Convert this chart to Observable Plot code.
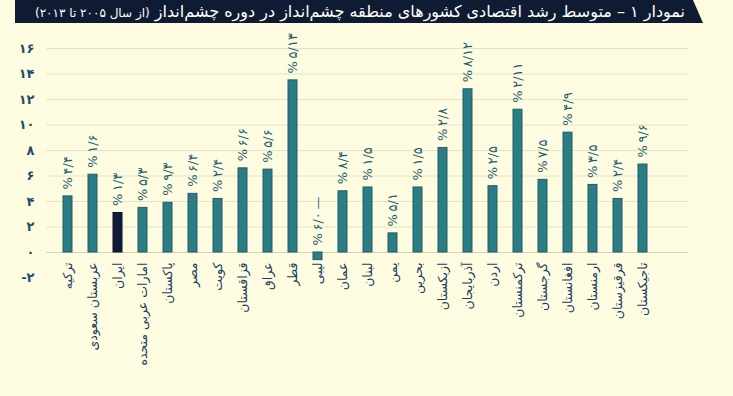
<!DOCTYPE html>
<html>
<head>
<meta charset="utf-8">
<script src="https://cdn.jsdelivr.net/npm/d3@7"></script>
<script src="https://cdn.jsdelivr.net/npm/@observablehq/plot@0.6"></script>
<style>
  html, body { margin: 0; padding: 0; background: #fefce0; }
  body { width: 733px; height: 396px; overflow: hidden; font-family: "DejaVu Sans", sans-serif; }
  #header {
    margin-left: 15px; width: 688px; height: 23px;
    background: #0f1b33; color: #ffffff;
    clip-path: polygon(0 0, 678px 0, 688px 23px, 0 23px);
    direction: rtl; box-sizing: border-box; padding-right: 18px;
    font-size: 16px; line-height: 23px; white-space: nowrap; overflow: hidden;
  }
  #header span { font-size: 12px; }
  #chart svg { display: block; }
</style>
</head>
<body>
<div id="header">نمودار ۱ – متوسط رشد اقتصادی کشورهای منطقه چشم‌انداز در دوره چشم‌انداز <span>(از سال ۲۰۰۵ تا ۲۰۱۳)</span></div>
<div id="chart"></div>
<script>
const categories = ["ترکیه", "عربستان سعودی", "ایران", "امارات عربی متحده", "پاکستان", "مصر", "کویت", "قزاقستان", "عراق", "قطر", "لیبی", "عمان", "لبنان", "یمن", "بحرین", "ازبکستان", "آذربایجان", "اردن", "ترکمنستان", "گرجستان", "افغانستان", "ارمنستان", "قرقیزستان", "تاجیکستان"];
const values = [4.4, 6.1, 3.1, 3.5, 3.9, 4.6, 4.2, 6.6, 6.5, 13.5, -0.6, 4.8, 5.1, 1.5, 5.1, 8.2, 12.8, 5.2, 11.2, 5.7, 9.4, 5.3, 4.2, 6.9];
const highlighted = ["ایران"];
const yTicks = [-2, 0, 2, 4, 6, 8, 10, 12, 14, 16];

const faDigits = "۰۱۲۳۴۵۶۷۸۹";
const fa = s => String(s).replace(/[0-9]/g, c => faDigits[+c]);
const tickFmt = t => (t < 0 ? "-" : "") + fa(Math.abs(t));
// visual order as in the reference: % fraction / integer (minus)
const valFmt = v => {
  const a = Math.abs(v).toFixed(1).split(".");
  return "%\u2009" + fa(a[1]) + "/" + fa(a[0]) + (v < 0 ? "\u2009—" : "");
};

const data = categories.map((name, i) => ({name, value: values[i]}));

const chart = Plot.plot({
  width: 733,
  height: 373,
  marginTop: 25,
  marginBottom: 118.5,
  marginLeft: 46,
  marginRight: 45,
  style: {background: "transparent", fontFamily: "DejaVu Sans", color: "#1d4f6a"},
  x: {type: "band", domain: categories, range: [47, 662], paddingInner: 0.65, paddingOuter: 0.325, axis: null},
  y: {domain: [-2, 16], axis: null},
  marks: [
    Plot.ruleY(yTicks.filter(t => t > 0), {stroke: "#e6e3c4", strokeWidth: 1}),
    Plot.ruleY([0], {stroke: "#d6d3b3", strokeWidth: 1}),
    Plot.barY(data, {
      x: "name", y: "value",
      fill: d => highlighted.includes(d.name) ? "#101a3a" : "#2c7c86",
      stroke: d => highlighted.includes(d.name) ? "#0a1128" : "#1f5d66",
      strokeWidth: 1
    }),
    Plot.axisY({ticks: yTicks, tickSize: 0, tickPadding: 12, tickFormat: tickFmt, fontSize: 13, fontWeight: "bold", label: null}),
    Plot.text(data, {
      x: "name", y: d => Math.max(0, d.value), text: d => valFmt(d.value),
      rotate: -90, textAnchor: "start", lineAnchor: "middle", dy: -7,
      fontSize: 13, fill: "#1e5f74"
    }),
    Plot.text(data, {
      x: "name", y: () => 0, text: "name",
      rotate: -90, textAnchor: "end", lineAnchor: "middle", dy: 10,
      fontSize: 12.5, fill: "#1a3d63"
    })
  ]
});
document.getElementById("chart").appendChild(chart);
</script>
</body>
</html>
